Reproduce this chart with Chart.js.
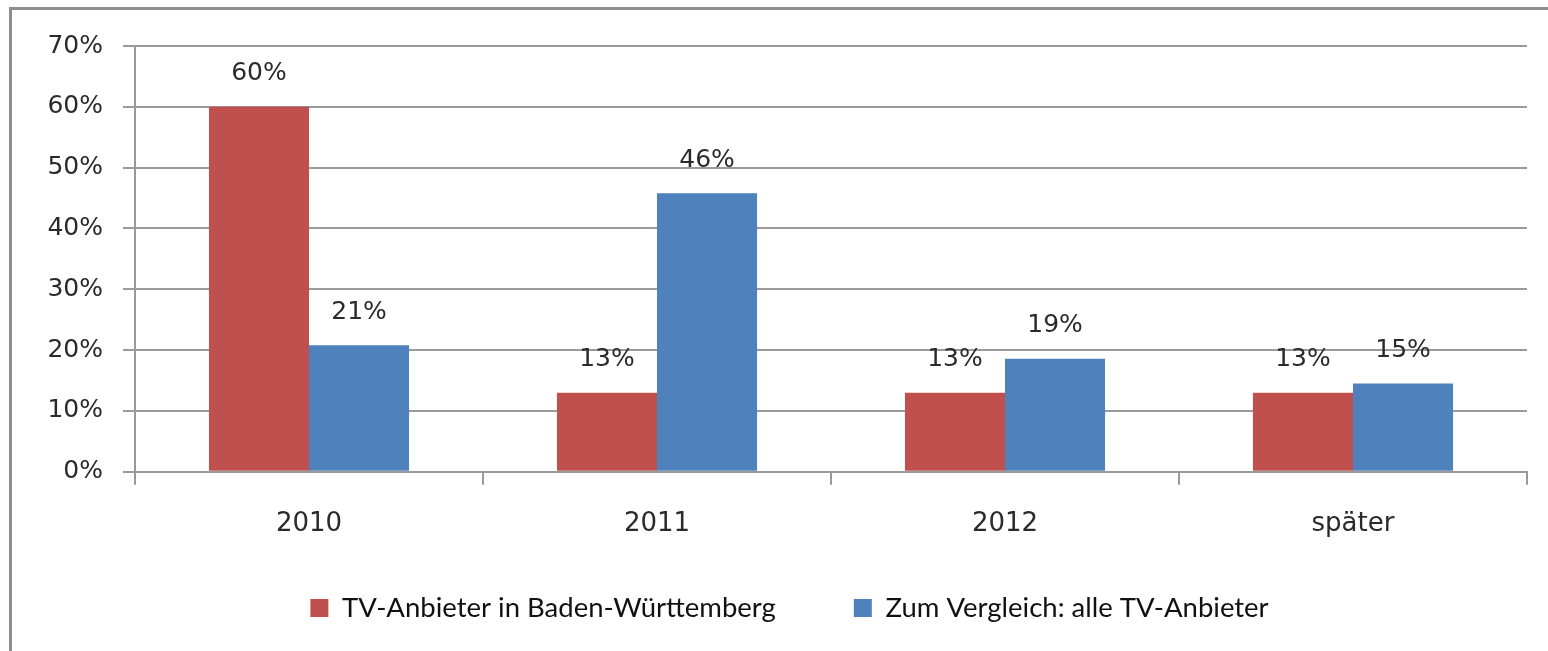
<!DOCTYPE html>
<html>
<head>
<meta charset="utf-8">
<script src="https://cdn.jsdelivr.net/npm/chart.js@4/dist/chart.umd.min.js"></script>
<style>
  html, body { margin: 0; padding: 0; background: #fff; overflow: hidden; }
  .frame {
    position: absolute; left: 9px; top: 7px; width: 1545px; height: 660px;
    border-left: 3px solid #8e8e8e; border-top: 3px solid #8e8e8e;
  }
  .box { position: absolute; left: 0; top: 0; width: 1536px; height: 641px; }
</style>
</head>
<body>
<div class="frame"><div class="box"><canvas id="chart"></canvas></div></div>
<script>
const categories = ['2010', '2011', '2012', 'später'];
const seriesNames = ['TV-Anbieter in Baden-Württemberg', 'Zum Vergleich: alle TV-Anbieter'];
const bawue = [60, 13, 13, 13];
const alle = [20.8, 45.8, 18.6, 14.5];
const yTicks = [0, 10, 20, 30, 40, 50, 60, 70];

const red = '#C0504D';
const blue = '#4F81BD';
const gridGray = '#9a9a9a';
const textColor = '#2a2a2a';

const legendPad = 78;
const legendFont = 27.5;

// percent labels above each bar
const barLabels = {
    id: 'barLabels',
    afterDatasetsDraw(chart) {
        const ctx = chart.ctx;
        ctx.save();
        ctx.font = '25px "DejaVu Sans"';
        ctx.fillStyle = textColor;
        ctx.textAlign = 'center';
        ctx.textBaseline = 'middle';
        chart.data.datasets.forEach((ds, i) => {
            chart.getDatasetMeta(i).data.forEach((bar, j) => {
                ctx.fillText(Math.round(ds.data[j]) + '%', bar.x, bar.y - 33);
            });
        });
        ctx.restore();
    }
};

// the legend padding is also used vertically, so pull the legend row up a bit
const legendNudge = {
    id: 'legendNudge',
    afterLayout(chart) {
        const lg = chart.legend;
        const h = lg.height;
        lg.top = 598 - legendPad - legendFont / 2;
        lg.bottom = lg.top + h;
        lg.left += 20;
        lg.right += 20;
    }
};

const ctx = document.getElementById('chart').getContext('2d');
const chart = new Chart(ctx, {
    type: 'bar',
    data: {
        labels: categories,
        datasets: [
            { label: seriesNames[0], data: bawue, backgroundColor: red },
            { label: seriesNames[1], data: alle, backgroundColor: blue }
        ]
    },
    options: {
        responsive: true,
        maintainAspectRatio: false,
        animation: false,
        events: [],
        categoryPercentage: 0.575,
        barPercentage: 1,
        layout: { padding: { top: 36, right: 21, left: 0, bottom: -25 } },
        scales: {
            x: {
                offset: true,
                grid: {
                    offset: true,
                    drawOnChartArea: false,
                    drawTicks: true,
                    tickLength: 13,
                    color: gridGray,
                    lineWidth: 2
                },
                border: { display: true, color: gridGray, width: 2 },
                ticks: {
                    color: textColor,
                    font: { family: 'DejaVu Sans', size: 26 },
                    padding: 24
                }
            },
            y: {
                min: 0,
                max: 70,
                afterBuildTicks(scale) {
                    scale.ticks = yTicks.map(v => ({ value: v }));
                },
                afterFit(scale) { scale.width = 123; },
                grid: {
                    color: gridGray,
                    lineWidth: 2,
                    tickLength: 12
                },
                border: { display: true, color: gridGray, width: 2 },
                ticks: {
                    color: textColor,
                    font: { family: 'DejaVu Sans', size: 25 },
                    padding: 20,
                    callback: v => v + '%'
                }
            }
        },
        plugins: {
            legend: {
                position: 'bottom',
                maxHeight: 112,
                labels: {
                    boxWidth: 18,
                    boxHeight: 18,
                    padding: legendPad,
                    color: '#111',
                    font: { family: 'Lato', size: legendFont }
                }
            },
            tooltip: { enabled: false }
        }
    },
    plugins: [barLabels, legendNudge]
});
</script>
</body>
</html>
